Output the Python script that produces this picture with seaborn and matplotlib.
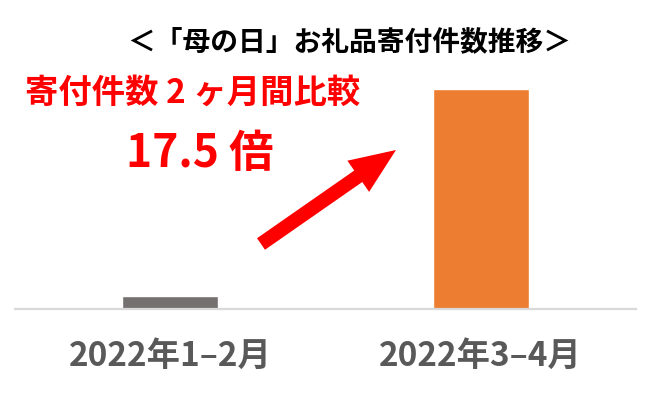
import matplotlib
matplotlib.use("Agg")
import matplotlib.pyplot as plt
from matplotlib.patches import FancyArrow
from matplotlib.transforms import IdentityTransform
import seaborn as sns
import pandas as pd

periods = ["2022年1–2月", "2022年3–4月"]
counts = [1.0, 17.5]
bar_colors = ["#767171", "#ED7D31"]
title = "＜「母の日」お礼品寄付件数推移＞"
note = "寄付件数 2 ヶ月間比較"
ratio_text = "17.5 倍"

sns.set_style("white")
plt.rcParams["font.family"] = ["Noto Sans CJK JP", "DejaVu Sans"]

df = pd.DataFrame({"period": periods, "count": counts})

fig = plt.figure(figsize=(6.5, 4.07), dpi=100)
ax = fig.add_axes([15 / 650, 1 - 309 / 407, 621 / 650, (309 - 57.6) / 407])

sns.barplot(data=df, x="period", y="count", hue="period", palette=bar_colors,
            width=0.31, legend=False, ax=ax, saturation=1)

ax.set_xlim(-0.5, 1.5)
ax.set_ylim(0, 20)
ax.set_xlabel("")
ax.set_ylabel("")
ax.set_yticks([])
for s in ["top", "right", "left"]:
    ax.spines[s].set_visible(False)
ax.spines["bottom"].set_color("#D9D9D9")
ax.spines["bottom"].set_linewidth(1.6)
ax.tick_params(axis="x", length=0, pad=22)
for lab in ax.get_xticklabels():
    lab.set_fontsize(24)
    lab.set_fontweight("bold")
    lab.set_color("#595959")

fig.text(349 / 650, 1 - 42 / 407, title, ha="center", va="center",
         fontsize=20, fontweight="bold", color="black")
fig.text(25 / 650, 1 - 93 / 407, note, ha="left", va="center",
         fontsize=24, fontweight="bold", color="#FF0000")
fig.text(200 / 650, 1 - 154 / 407, ratio_text, ha="center", va="center",
         fontsize=32, fontweight="bold", color="#FF0000")

# big red arrow, in pixel coords
fig.add_artist(FancyArrow(261, 407 - 244, 135, 94, width=14, head_width=38,
                          head_length=46, length_includes_head=True,
                          color="#FF0000", lw=0, transform=IdentityTransform()))

fig.savefig("out.png", dpi=100)
